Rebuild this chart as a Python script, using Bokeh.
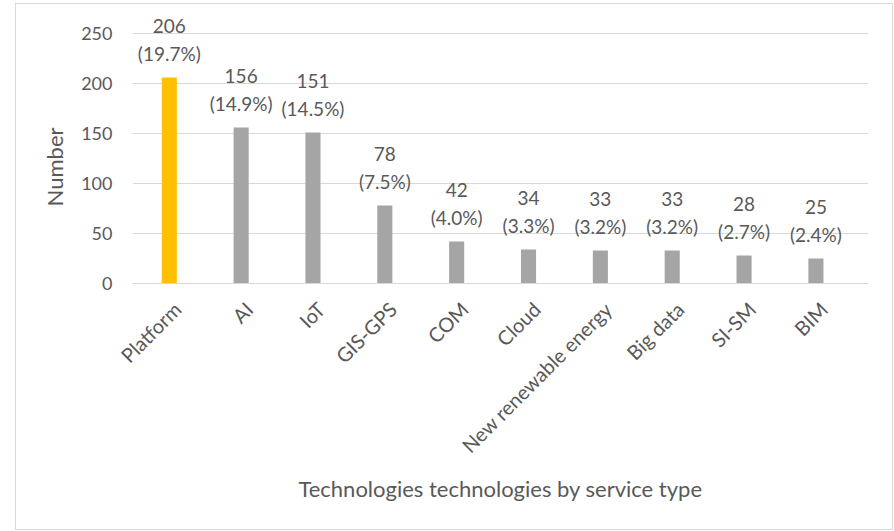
from math import pi
from bokeh.plotting import figure
from bokeh.models import ColumnDataSource, FactorRange, Range1d, FixedTicker, Title
from bokeh.transform import dodge
from bokeh.core.properties import value
from bokeh.embed import file_html
from bokeh.resources import INLINE

categories = ["Platform", "AI", "IoT", "GIS-GPS", "COM", "Cloud",
              "New renewable energy", "Big data", "SI-SM", "BIM"]
counts = [206, 156, 151, 78, 42, 34, 33, 33, 28, 25]
percents = [19.7, 14.9, 14.5, 7.5, 4.0, 3.3, 3.2, 3.2, 2.7, 2.4]
y_ticks = [0, 50, 100, 150, 200, 250]
x_title = "Technologies technologies by service type"
y_title = "Number"

FONT = "Lato"
TEXT = "#595959"
GRID = "#D9D9D9"
colors = ["#FFC000"] + ["#A5A5A5"] * (len(categories) - 1)

src = ColumnDataSource(dict(
    cat=categories,
    n=counts,
    n_txt=[str(v) for v in counts],
    pct_txt=[f"({v:.1f}%)" for v in percents],
    color=colors,
))

p = figure(
    x_range=FactorRange(*categories, range_padding=0.122, range_padding_units="absolute"),
    y_range=Range1d(0, 275),
    width=876, height=525,
    output_backend="svg", toolbar_location=None,
    min_border_left=116, min_border_right=24, min_border_top=4, min_border_bottom=246,
)
p.margin = (4, 0, 0, 16)
p.styles = {"outline": "1px solid #D9D9D9"}
p.outline_line_color = None
p.background_fill_color = "white"
p.border_fill_color = "white"

xpos = dodge("cat", -0.110, range=p.x_range)
p.vbar(x=xpos, top="n", width=0.21, color="color", line_color=None, source=src)
p.text(x=xpos, y="n", text="pct_txt", y_offset=-24, text_align="center",
       text_baseline="middle", text_font=value(FONT), text_font_size="19px",
       text_color=TEXT, source=src)
p.text(x=xpos, y="n", text="n_txt", y_offset=-52, text_align="center",
       text_baseline="middle", text_font=value(FONT), text_font_size="19px",
       text_color=TEXT, source=src)

# axes
p.xaxis.major_label_orientation = pi / 4
p.xaxis.major_tick_line_color = None
p.xaxis.minor_tick_line_color = None
p.xaxis.axis_line_color = GRID
p.xaxis.major_label_standoff = 16
p.xaxis.major_label_text_font = FONT
p.xaxis.major_label_text_font_size = "20px"
p.xaxis.major_label_text_color = TEXT
p.xaxis.axis_label = x_title
p.xaxis.axis_label_text_font = FONT
p.xaxis.axis_label_text_font_size = "22px"
p.xaxis.axis_label_text_font_style = "normal"
p.xaxis.axis_label_text_color = TEXT
p.xaxis.axis_label_standoff = 6

p.yaxis.ticker = FixedTicker(ticks=y_ticks)
p.yaxis.axis_line_color = None
p.yaxis.major_tick_line_color = None
p.yaxis.minor_tick_line_color = None
p.yaxis.major_label_standoff = 14
p.yaxis.major_label_text_font = FONT
p.yaxis.major_label_text_font_size = "18px"
p.yaxis.major_label_text_color = TEXT

# y-axis title, placed so it is centred on the 0..250 span like the reference
p.add_layout(Title(text=y_title, align="right", offset=119, standoff=22,
                   text_font=FONT, text_font_size="22px", text_font_style="normal",
                   text_color=TEXT), "left")

p.xgrid.grid_line_color = None
p.ygrid.ticker = FixedTicker(ticks=y_ticks)
p.ygrid.grid_line_color = GRID
p.ygrid.grid_line_width = 1

open("out.html", "w").write(file_html(p, INLINE))
